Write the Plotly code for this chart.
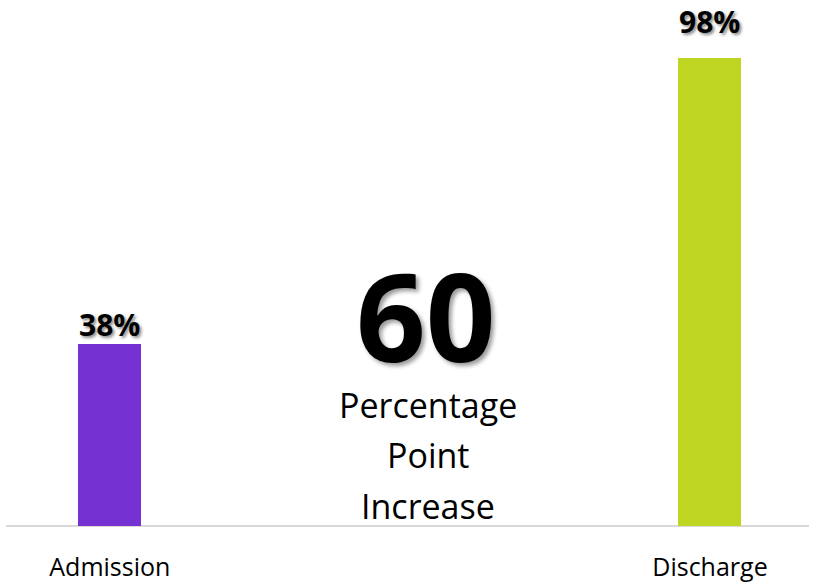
import plotly.graph_objects as go

categories = ["Admission", "Discharge"]
values = [38, 98]
labels = ["38%", "98%"]
label_lift = [-3, 14]
colors = ["#7531D1", "#BED622"]
center_big = "60"
center_lines = ["Percentage", "Point", "Increase"]

FONT = "Open Sans"

fig = go.Figure()
fig.add_trace(go.Bar(
    x=[0, 1], y=values, width=0.105,
    marker=dict(color=colors, line=dict(width=0)),
    hoverinfo="skip",
))

for xi, v, t, lift in zip([0, 1], values, labels, label_lift):
    fig.add_annotation(x=xi, y=v, xref="x", yref="y", text=t, showarrow=False,
                       yanchor="bottom", yshift=lift,
                       font=dict(family=FONT, size=30, color="#000000", weight="bold",
                                 shadow="2px 2px 3px rgba(0,0,0,0.45)"))

fig.add_annotation(x=0.527, y=44.2, xref="x", yref="y", text=center_big,
                   showarrow=False, yanchor="middle",
                   font=dict(family=FONT, size=122, color="#000000", weight="bold",
                             shadow="3px 3px 4px rgba(0,0,0,0.4)"))
for i, t in enumerate(center_lines):
    fig.add_annotation(x=0.53, y=25.4 - i * 10.6, xref="x", yref="y", text=t,
                       showarrow=False, yanchor="middle",
                       font=dict(family=FONT, size=34, color="#000000"))

fig.update_layout(
    width=814, height=583,
    margin=dict(l=6, r=5, t=48, b=57, autoexpand=False),
    paper_bgcolor="white", plot_bgcolor="white",
    showlegend=False,
    bargap=0,
)
fig.update_xaxes(range=[-0.173, 1.165], tickvals=[0, 1], ticktext=categories,
                 showgrid=False, zeroline=False, showline=False, automargin=False,
                 ticks="", ticklabelstandoff=24,
                 tickfont=dict(family=FONT, size=25, color="#000000"))
fig.update_yaxes(range=[0, 100], showgrid=False, zeroline=True, automargin=False,
                 zerolinecolor="#D9D9D9", zerolinewidth=2,
                 showticklabels=False, showline=False, ticks="")

fig.write_html("out.html")
